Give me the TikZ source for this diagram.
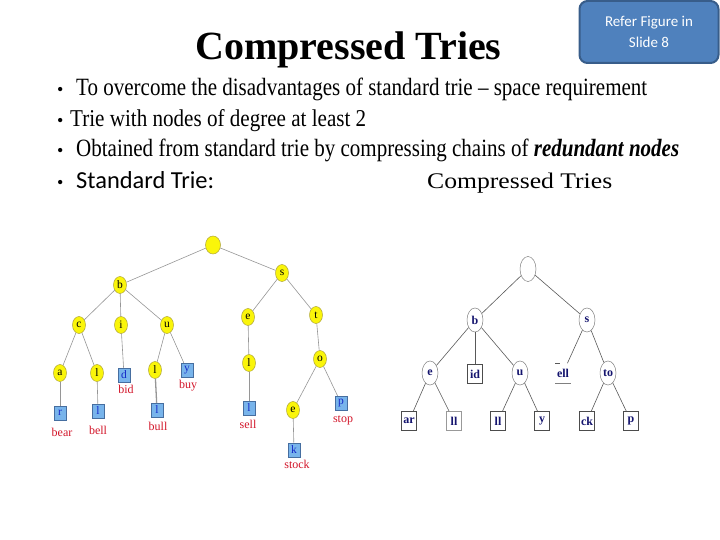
\documentclass[tikz,border=0pt]{standalone}
\usepackage{fontspec}
\setmainfont{Liberation Serif}
\newfontfamily\carl{Carlito}
\usetikzlibrary{shapes.geometric}
\definecolor{trieyellow}{RGB}{250,245,10}
\definecolor{yelborder}{RGB}{175,165,60}
\definecolor{leafblue}{RGB}{120,180,235}
\definecolor{leafborder}{RGB}{70,110,160}
\definecolor{leaftext}{RGB}{20,40,200}
\definecolor{lblred}{RGB}{210,20,40}
\definecolor{edgegray}{RGB}{150,150,150}
\definecolor{navytext}{RGB}{20,20,110}
\definecolor{boxfill}{RGB}{79,129,189}
\definecolor{boxline}{RGB}{56,93,138}
\begin{document}
\begin{tikzpicture}[x=1pt,y=-1pt,
 yel/.style={ellipse, fill=trieyellow, draw=yelborder, line width=0.5pt, minimum width=13pt, minimum height=17pt, inner sep=0pt, font=\fontsize{11.5}{11.5}\selectfont},
 leaf/.style={rectangle, fill=leafblue, draw=leafborder, line width=0.5pt, minimum width=12pt, minimum height=14pt, inner sep=0pt, text=leaftext, font=\fontsize{11.5}{11.5}\selectfont},
 lbl/.style={text=lblred, font=\fontsize{12}{12}\selectfont, inner sep=0pt},
 sedge/.style={draw=edgegray, line width=0.6pt},
 cn/.style={ellipse, draw=gray, fill=white, line width=0.5pt, minimum width=16pt, minimum height=24pt, inner sep=0pt, text=navytext, font=\fontsize{12}{12}\selectfont\bfseries},
 cb/.style={rectangle, draw=black!70, line width=0.7pt, minimum width=15pt, minimum height=19pt, inner sep=0pt, text=navytext, font=\fontsize{12}{12}\selectfont\bfseries},
 cedge/.style={draw=black!65, line width=0.6pt},
 txt/.style={anchor=base west, inner sep=0pt}]
\useasboundingbox (0,0) rectangle (720,540);

% title
\node[txt] (title) at (195,60) {\fontsize{40}{40}\selectfont\bfseries Compressed Tries};

% refer box
\node[draw=boxline, fill=boxfill, line width=2pt, rounded corners=8pt, minimum width=139pt, minimum height=62pt, inner sep=0pt] (refer) at (649,32) {};
\node[text=white, font=\carl\fontsize{15}{21}\selectfont, align=center] (refertxt) at (649,32) {Refer Figure in\\Slide 8};

% bullets
\foreach \yy/\nm in {96/b1,127/b2,157/b3,189/b4}
  \node[txt] (\nm) at (57,\yy) {\fontsize{18}{18}\selectfont •};
\node[txt] (l1) at (76,96) {\resizebox{571pt}{17.5pt}{To overcome the disadvantages of standard trie – space requirement}};
\node[txt] (l2) at (70,127) {\resizebox{296pt}{17pt}{Trie with nodes of degree at least 2}};
\node[txt] (l3) at (76,157) {\resizebox{603pt}{17.5pt}{Obtained from standard trie by compressing chains of \textbf{\textit{redundant nodes}}}};
\node[txt] (l4a) at (76,189) {\resizebox{138pt}{!}{\carl Standard Trie:}};
\node[txt] (l4b) at (427,189) {\resizebox{185pt}{15.5pt}{Compressed Tries}};

% ---------- standard trie ----------
\node[yel, minimum width=15pt, minimum height=18pt] (r) at (213,245) {};
\node[yel] (sb) at (120,285) {b};
\node[yel] (ss) at (282,273) {s};
\node[yel] (sc) at (79,325) {c};
\node[yel] (si) at (121,325) {i};
\node[yel] (su) at (167,325) {u};
\node[yel] (se) at (248,317) {e};
\node[yel] (st) at (316,315) {t};
\node[yel] (sa) at (60,373) {a};
\node[yel] (sl1) at (97,373) {l};
\node[leaf] (sd) at (124,375) {d};
\node[yel] (sl2) at (155,370) {l};
\node[leaf] (sy) at (187,370) {y};
\node[yel] (sl3) at (249,363) {l};
\node[yel] (so) at (320,359) {o};
\node[leaf] (sr) at (60,413) {r};
\node[leaf] (sl1b) at (98,411) {l};
\node[leaf] (sl2b) at (157,410) {l};
\node[leaf] (sl3b) at (249,408) {l};
\node[yel] (se2) at (293,410) {e};
\node[leaf] (sp) at (341,403) {p};
\node[leaf] (sk) at (294,450) {k};

\node[lbl] (tbear) at (62,432) {bear};
\node[lbl] (tbell) at (98,430) {bell};
\node[lbl] (tbid) at (126,389) {bid};
\node[lbl] (tbull) at (158,426) {bull};
\node[lbl] (tbuy) at (188,386) {buy};
\node[lbl] (tsell) at (248,424) {sell};
\node[lbl] (tstop) at (343,420) {stop};
\node[lbl] (tstock) at (297,464) {stock};

\foreach \a/\b in {r/sb, r/ss, sb/sc, sb/si, sb/su, sc/sa, sc/sl1, si/sd, su/sl2, su/sy,
  sa/sr, sl1/sl1b, ss/se, ss/st, se/sl3, sl3/sl3b, st/so, so/se2, so/sp, se2/sk}
  \draw[sedge] (\a) -- (\b);
\draw[sedge, line width=1.3pt] (sl2) -- (sl2b);

% ---------- compressed trie ----------
\node[cn, minimum height=25pt] (cr) at (528,269) {};
\node[cn] (cbb) at (475,320) {b};
\node[cn] (cs) at (587,320) {s};
\node[cn] (ce) at (430,373) {e};
\node[cb] (cid) at (475,374) {id};
\node[cn] (cu) at (520,373) {u};
\node[cb, draw=none] (cell) at (563,373) {ell};
\draw[cedge, draw=black!50] (cell.south west) -- (cell.south east);
\draw[cedge] (cell.north west) -- ++(5,0);
\node[cn] (cto) at (608,373) {to};
\node[cb] (car) at (409,421) {ar};
\node[cb, draw=black!40] (cll1) at (454,421) {ll};
\node[cb] (cll2) at (498,421) {ll};
\node[cb] (cy) at (542,421) {y};
\node[cb] (cck) at (587,421) {ck};
\node[cb] (cp) at (631,421) {p};

\foreach \a/\b in {cr/cbb, cr/cs, cbb/ce, cbb/cid, cbb/cu, ce/car, ce/cll1, cu/cll2, cu/cy,
  cs/cell, cs/cto, cto/cck, cto/cp}
  \draw[cedge] (\a) -- (\b);
\end{tikzpicture}
\end{document}
